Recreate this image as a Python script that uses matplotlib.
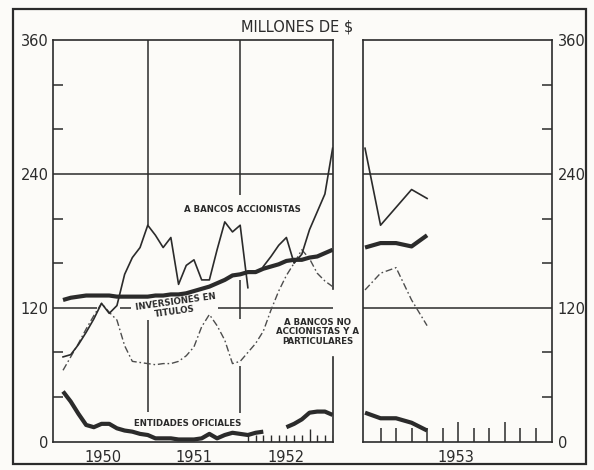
import numpy as np
import matplotlib.pyplot as plt
from matplotlib.patches import Rectangle

# millones de $, monthly, index 0 = enero 1950
months_left = np.arange(36)
bancos_accionistas = [76, 78, 87, 98, 110, 124, 115, 122, 150, 165, 174, 194,
                      185, 174, 183, 141, 158, 163, 145, 145, 172, 197, 188, 194,
                      138, np.nan, 157, 166, 176, 183, 160, 168, 190, 206, 222, 263]
bancos_no_accionistas = [64, 76, 88, 101, 113, 124, 116, 109, 86, 72, 71, 70,
                         69, 70, 70, 72, 77, 85, 103, 114, 104, 91, 70, 72,
                         80, 88, 99, 118, 135, 149, 160, 172, 164, 151, 144, 139]
inversiones_titulos = [127, 129, 130, 131, 131, 131, 131, 130, 130, 130, 130, 130,
                       131, 131, 132, 132, 133, 135, 137, 139, 142, 145, 149, 150,
                       152, 152, 155, 157, 159, 162, 163, 163, 165, 166, 169, 172]
entidades_oficiales = [45, 36, 25, 15, 13, 16, 16, 12, 10, 9, 7, 6,
                       3, 3, 3, 2, 2, 2, 3, 7, 3, 6, 8, 7,
                       6, 8, 9, np.nan, np.nan, 13, 16, 20, 26, 27, 27, 24]

# 1953, index 0 = enero
months_1953 = np.arange(5)
bancos_accionistas_53 = [263, 194, 210, 226, 218]
bancos_no_accionistas_53 = [136, 151, 156, 127, 104]
inversiones_titulos_53 = [174, 178, 178, 175, 185]
entidades_oficiales_53 = [26, 21, 21, 17, 10]

years_left = ['1950', '1951', '1952']
year_right = ['1953']
y_labels = ['0', '120', '240', '360']

ink = '#2b2b2b'
bg = '#fcfbf8'
W, H = 594, 470


def fx(px):
    return px / W


def fy(py):
    return 1 - py / H


fig = plt.figure(figsize=(W / 100, H / 100), dpi=100)
fig.patch.set_facecolor(bg)

y0, y1 = 441.7, 40
ax1 = fig.add_axes([fx(53), fy(y0), fx(333) - fx(53), fy(y1) - fy(y0)])
ax2 = fig.add_axes([fx(363), fy(y0), fx(552) - fx(363), fy(y1) - fy(y0)])

for ax in (ax1, ax2):
    ax.set_facecolor(bg)
    ax.set_ylim(0, 360)
    ax.set_yticks([0, 120, 240, 360], y_labels)
    ax.set_yticks([40, 80, 160, 200, 280, 320], minor=True)
    ax.tick_params(axis='y', which='major', length=0, labelsize=10.5, colors=ink)
    ax.tick_params(axis='y', which='minor', length=7, width=1.1, direction='in', color=ink)
    ax.tick_params(axis='x', length=0, labelsize=10.5, colors=ink, pad=6)
    for s in ax.spines.values():
        s.set_color(ink)
        s.set_linewidth(1.2)

ax1.set_xlim(-1.3, 35.05)
ax1.tick_params(axis='y', pad=3)
ax1.set_xticks([5.2, 17, 29], years_left)
ax1.spines['right'].set_visible(False)
ax1.plot([1, 1], [137 / 360, 1], transform=ax1.transAxes, color=ink, lw=1.2, clip_on=False)
ax1.plot([1, 1], [0, 76 / 360], transform=ax1.transAxes, color=ink, lw=1.2, clip_on=False)

ax2.set_xlim(-0.13, 12.05)
ax2.set_xticks([5.84], year_right)
ax2.yaxis.tick_right()
ax2.tick_params(axis='y', pad=4)

# grid lines (broken where the drawing has them broken)
gl = dict(color=ink, lw=1.1, zorder=1)
ax1.hlines(240, -1.3, 35.05, **gl)
ax1.hlines(120, -1.3, 4.4, **gl)
ax1.hlines(120, 7.4, 8.8, **gl)
ax1.hlines(120, 20.1, 35.05, **gl)
ax1.vlines(11, 194, 360, **gl)
ax1.vlines(11, 27, 109, **gl)
ax1.vlines(23, 221, 360, **gl)
ax1.vlines(23, 110, 145, **gl)
ax1.vlines(23, 26, 68, **gl)
ax2.hlines([120, 240], -0.13, 12.05, **gl)

# small marks along the bottom
ax1.vlines(np.arange(24, 36), 0, [6, 6, 6, 6, 6, 6, 6, 6, 11, 6, 6, 6], color=ink, lw=1.0)
ax2.vlines(np.arange(1, 12), 0, [12, 12, 12, 12, 12, 18, 12, 12, 18, 12, 12], color=ink, lw=1.1)

thin = dict(color=ink, lw=1.2, zorder=4)
thick = dict(color=ink, lw=3.0, zorder=4, solid_capstyle='butt')
dashed = dict(color='#4d4d4d', lw=1.0, ls=(0, (5, 2, 1.2, 2)), zorder=3)

ax1.plot(months_left, bancos_accionistas, **thin)
ax1.plot(months_left, bancos_no_accionistas, **dashed)
ax1.plot(months_left, inversiones_titulos, **thick)
ax1.plot(months_left, entidades_oficiales, **thick)

ax2.plot(months_1953, bancos_accionistas_53, **thin)
ax2.plot(months_1953, bancos_no_accionistas_53, **dashed)
ax2.plot(months_1953, inversiones_titulos_53, **thick)
ax2.plot(months_1953, entidades_oficiales_53, **thick)

# labels
lab = dict(fontsize=6.2, fontweight='bold', color=ink, ha='center', va='center')
fig.text(fx(297), fy(27), 'MILLONES DE $', fontsize=10.5, color=ink, ha='center', va='center')
fig.text(fx(242), fy(209), 'A BANCOS ACCIONISTAS', **lab)
fig.text(fx(176), fy(302), 'INVERSIONES EN', rotation=8, **lab)
fig.text(fx(175), fy(312), 'TITULOS', rotation=8, **lab)
fig.text(fx(318), fy(332), 'A BANCOS NO\nACCIONISTAS Y A\nPARTICULARES', linespacing=1.1, **lab)
fig.text(fx(188), fy(424), 'ENTIDADES OFICIALES', **lab)

fig.add_artist(Rectangle((fx(13), fy(464)), fx(586) - fx(13), fy(9) - fy(464),
                         transform=fig.transFigure, fill=False, lw=1.6, ec=ink))

plt.savefig('out.png', dpi=100, facecolor=bg)
